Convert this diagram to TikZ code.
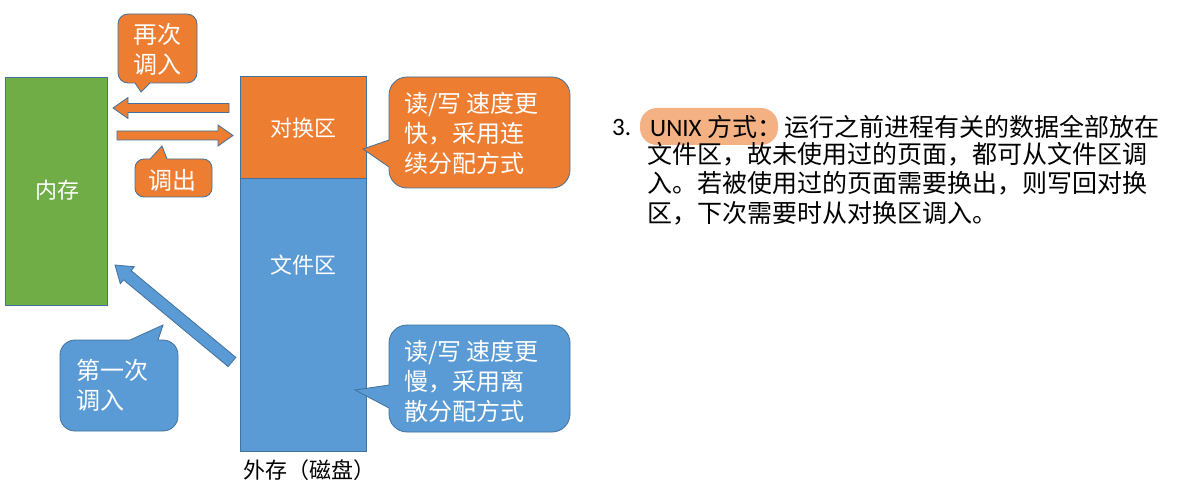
\documentclass[tikz,border=0pt]{standalone}
\usepackage{fontspec}
\setmainfont{Noto Sans CJK SC}
\newfontfamily\latfont{Carlito}
\usetikzlibrary{calc}
\definecolor{orangeA}{HTML}{ED7D31}
\definecolor{blueA}{HTML}{5B9BD5}
\definecolor{greenA}{HTML}{70AD47}
\definecolor{edgeA}{HTML}{41719C}
\definecolor{peach}{HTML}{F4B183}

% block arrow: style, tail, tip, shaft half width, head half width, head length
\newcommand\blockarrow[6]{%
  \coordinate (ba-b) at ($(#3)!#6!(#2)$);
  \draw[#1] ($(#2)!#4!90:(#3)$) -- ($(ba-b)!#4!90:(#3)$) -- ($(ba-b)!#5!90:(#3)$)
    -- (#3) -- ($(ba-b)!#5!-90:(#3)$) -- ($(ba-b)!#4!-90:(#3)$)
    -- ($(#2)!#4!-90:(#3)$) -- cycle;}

\begin{document}
\begin{tikzpicture}[x=1pt,y=-1pt,
  box/.style={draw=edgeA,line width=0.8pt,inner sep=0pt},
  bubble/.style={draw=edgeA,line width=0.8pt},
  wtext/.style={text=white,inner sep=0pt,font=\fontsize{24}{30}\selectfont},
  ptext/.style={text=black,inner sep=0pt,font=\fontsize{25}{29.5}\selectfont}]
\useasboundingbox (0,0) rectangle (1179,500);

% memory and disk
\node[box,fill=greenA,minimum width=102pt,minimum height=228pt] (mem) at (56,191) {};
\node[wtext,font=\fontsize{22}{26}\selectfont] (memlbl) at (57,190) {内存};
\node[box,fill=orangeA,minimum width=126pt,minimum height=102pt] (swap) at (303,127) {};
\node[box,fill=blueA,minimum width=126pt,minimum height=273pt] (file) at (303,314.5) {};
\node[wtext,font=\fontsize{22}{26}\selectfont] (swaplbl) at (303,128) {对换区};
\node[wtext,font=\fontsize{22}{26}\selectfont] (filelbl) at (303,265) {文件区};
\node[inner sep=0pt,font=\fontsize{22}{26}\selectfont] (disklbl) at (309,470) {外存（磁盘）};

% block arrows
\coordinate (inT) at (229,108);   \coordinate (inP) at (113,108);
\coordinate (outT) at (117,135.5); \coordinate (outP) at (233,135.5);
\coordinate (firstT) at (232,362); \coordinate (firstP) at (115,265);
\blockarrow{bubble,fill=orangeA}{inT}{inP}{4.5pt}{10.5pt}{15pt}
\blockarrow{bubble,fill=orangeA}{outT}{outP}{4.5pt}{10.5pt}{15pt}
\blockarrow{bubble,fill=blueA}{firstT}{firstP}{6pt}{11pt}{16pt}

% callouts
\draw[bubble,fill=orangeA] (118,24) arc[start angle=180,end angle=270,radius=10]
  -- (187,14) arc[start angle=270,end angle=360,radius=10]
  -- (197,73) arc[start angle=0,end angle=90,radius=10]
  -- (150,83) -- (141,92) -- (135,83)
  -- (128,83) arc[start angle=90,end angle=180,radius=10] -- cycle;
\node[wtext,align=left] (again) at (157,49) {再次\\调入};

\draw[bubble,fill=orangeA] (135,168) arc[start angle=180,end angle=270,radius=9]
  -- (150,159) -- (162,146) -- (167,159)
  -- (203,159) arc[start angle=270,end angle=360,radius=9]
  -- (212,188) arc[start angle=0,end angle=90,radius=9]
  -- (144,197) arc[start angle=90,end angle=180,radius=9] -- cycle;
\node[wtext] (out) at (172,180) {调出};

\draw[bubble,fill=blueA] (60,355) arc[start angle=180,end angle=270,radius=15]
  -- (130,340) -- (163,325) -- (158,340)
  -- (163,340) arc[start angle=270,end angle=360,radius=15]
  -- (178,416) arc[start angle=0,end angle=90,radius=15]
  -- (75,431) arc[start angle=90,end angle=180,radius=15] -- cycle;
\node[wtext,align=left,anchor=west] (first) at (76,385.5) {第一次\\调入};

\draw[bubble,fill=orangeA] (389,95) arc[start angle=180,end angle=270,radius=18]
  -- (552,77) arc[start angle=270,end angle=360,radius=18]
  -- (570,170) arc[start angle=0,end angle=90,radius=18]
  -- (407,188) arc[start angle=90,end angle=180,radius=18]
  -- (389,167) -- (363,149) -- (389,140) -- cycle;
\node[wtext,align=left,anchor=west] (fast) at (404,133) {读/写 速度更\\快，采用连\\续分配方式};

\draw[bubble,fill=blueA] (389,343) arc[start angle=180,end angle=270,radius=18]
  -- (552,325) arc[start angle=270,end angle=360,radius=18]
  -- (570,414) arc[start angle=0,end angle=90,radius=18]
  -- (407,432) arc[start angle=90,end angle=180,radius=18]
  -- (389,408) -- (355,390) -- (389,385) -- cycle;
\node[wtext,align=left,anchor=west] (slow) at (404,381) {读/写 速度更\\慢，采用离\\散分配方式};

% explanation text
\node[ptext,anchor=west] (num) at (612,127) {\latfont 3.};
\node[fill=peach,rounded corners=17pt,minimum width=138pt,minimum height=37pt,inner sep=0pt] (pill) at (709,126.5) {};
\node[ptext,anchor=west] (head) at (650,127) {{\latfont UNIX} 方式：};
\node[ptext,anchor=west] (line1) at (784,127) {运行之前进程有关的数据全部放在};
\node[ptext,anchor=north west,align=left] (rest) at (647,142) {文件区，故未使用过的页面，都可从文件区调\\入。若被使用过的页面需要换出，则写回对换\\区，下次需要时从对换区调入。};
\end{tikzpicture}
\end{document}
